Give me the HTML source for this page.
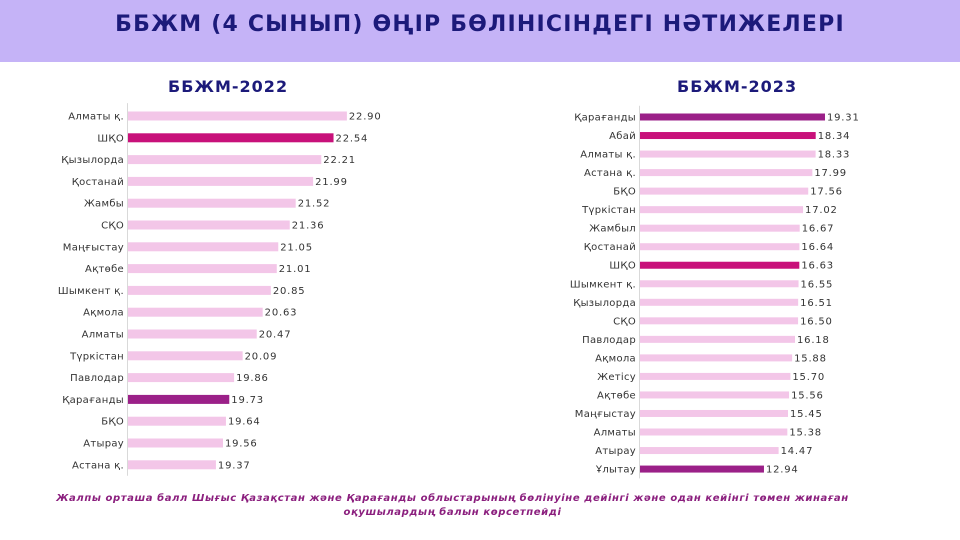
<!DOCTYPE html>
<html><head><meta charset="utf-8"><style>
body{margin:0;width:960px;height:540px;background:#fff;font-family:"DejaVu Sans","Liberation Sans",sans-serif;overflow:hidden;position:relative}
#hdr{position:absolute;left:0;top:0;width:960px;height:62px;background:#c5b3f7}
#title{position:absolute;left:0;top:12px;width:960px;text-align:center;font-size:22px;font-weight:bold;color:#1c1a7a;letter-spacing:1.2px}
.ct{position:absolute;font-size:16px;font-weight:bold;color:#1c1a7a;letter-spacing:1px}
#foot{position:absolute;left:0;top:492px;width:905px;text-align:center;font-size:10px;font-weight:bold;font-style:italic;color:#8b1f7e;line-height:14px;letter-spacing:0.6px}
svg{position:absolute;left:0;top:0}
</style></head><body>
<div id="hdr"></div>
<div id="title">ББЖМ (4 СЫНЫП) ӨҢІР БӨЛІНІСІНДЕГІ НӘТИЖЕЛЕРІ</div>
<div class="ct" style="left:168px;top:77px">ББЖМ-2022</div>
<div class="ct" style="left:677px;top:77px">ББЖМ-2023</div>
<svg id="svg" width="960" height="540"></svg>
<div id="foot">Жалпы орташа балл Шығыс Қазақстан және Қарағанды облыстарының бөлінуіне дейінгі және одан кейінгі төмен жинаған<br>оқушылардың балын көрсетпейді</div>
<script>
const cats22=["Алматы қ.","ШҚО","Қызылорда","Қостанай","Жамбы","СҚО","Маңғыстау","Ақтөбе","Шымкент қ.","Ақмола","Алматы","Түркістан","Павлодар","Қарағанды","БҚО","Атырау","Астана қ."];
const vals22=[22.90,22.54,22.21,21.99,21.52,21.36,21.05,21.01,20.85,20.63,20.47,20.09,19.86,19.73,19.64,19.56,19.37];
const hl22=["","m","","","","","","","","","","","","p","","",""];
const cats23=["Қарағанды","Абай","Алматы қ.","Астана қ.","БҚО","Түркістан","Жамбыл","Қостанай","ШҚО","Шымкент қ.","Қызылорда","СҚО","Павлодар","Ақмола","Жетісу","Ақтөбе","Маңғыстау","Алматы","Атырау","Ұлытау"];
const vals23=[19.31,18.34,18.33,17.99,17.56,17.02,16.67,16.64,16.63,16.55,16.51,16.50,16.18,15.88,15.70,15.56,15.45,15.38,14.47,12.94];
const hl23=["p","m","","","","","","","m","","","","","","","","","","","p"];
const NS="http://www.w3.org/2000/svg",svg=document.getElementById('svg');
const col={"":"#f3c6e8","m":"#c8117a","p":"#9b2088"};
function el(t,a){const e=document.createElementNS(NS,t);for(const k in a)e.setAttribute(k,a[k]);svg.appendChild(e);return e;}
function chart(cats,vals,hl,o){
  const x=v=>o.x0+(v-o.min)*o.ppu;
  const y=i=>o.y0+i*o.step;
  const ax=el('line',{x1:o.x0-0.5,x2:o.x0-0.5,y1:o.y0-o.step/2-2,y2:y(cats.length-1)+o.step/2,stroke:'#d9d9d9','stroke-width':1});
  
  cats.forEach((c,i)=>{
    const r=el('rect',{x:o.x0,y:y(i)-o.bh/2,width:Math.max(0,x(vals[i])-o.x0),height:o.bh,fill:col[hl[i]]});
    
    const l=el('text',{x:o.x0-4,y:y(i)+3.5,'text-anchor':'end','font-size':10,fill:'#333','letter-spacing':'0.3'});
    l.textContent=c;
    const v=el('text',{x:x(vals[i])+2,y:y(i)+3.5,'font-size':10,fill:'#333','letter-spacing':'0.8'});
    v.textContent=vals[i].toFixed(2);
  });
}
chart(cats22,vals22,hl22,{n:'chart-2022',x0:128,min:17,ppu:37.1,y0:116,step:21.8,bh:9});
chart(cats23,vals23,hl23,{n:'chart-2023',x0:640,min:0,ppu:9.58,y0:117,step:18.53,bh:7});
</script>
</body></html>
